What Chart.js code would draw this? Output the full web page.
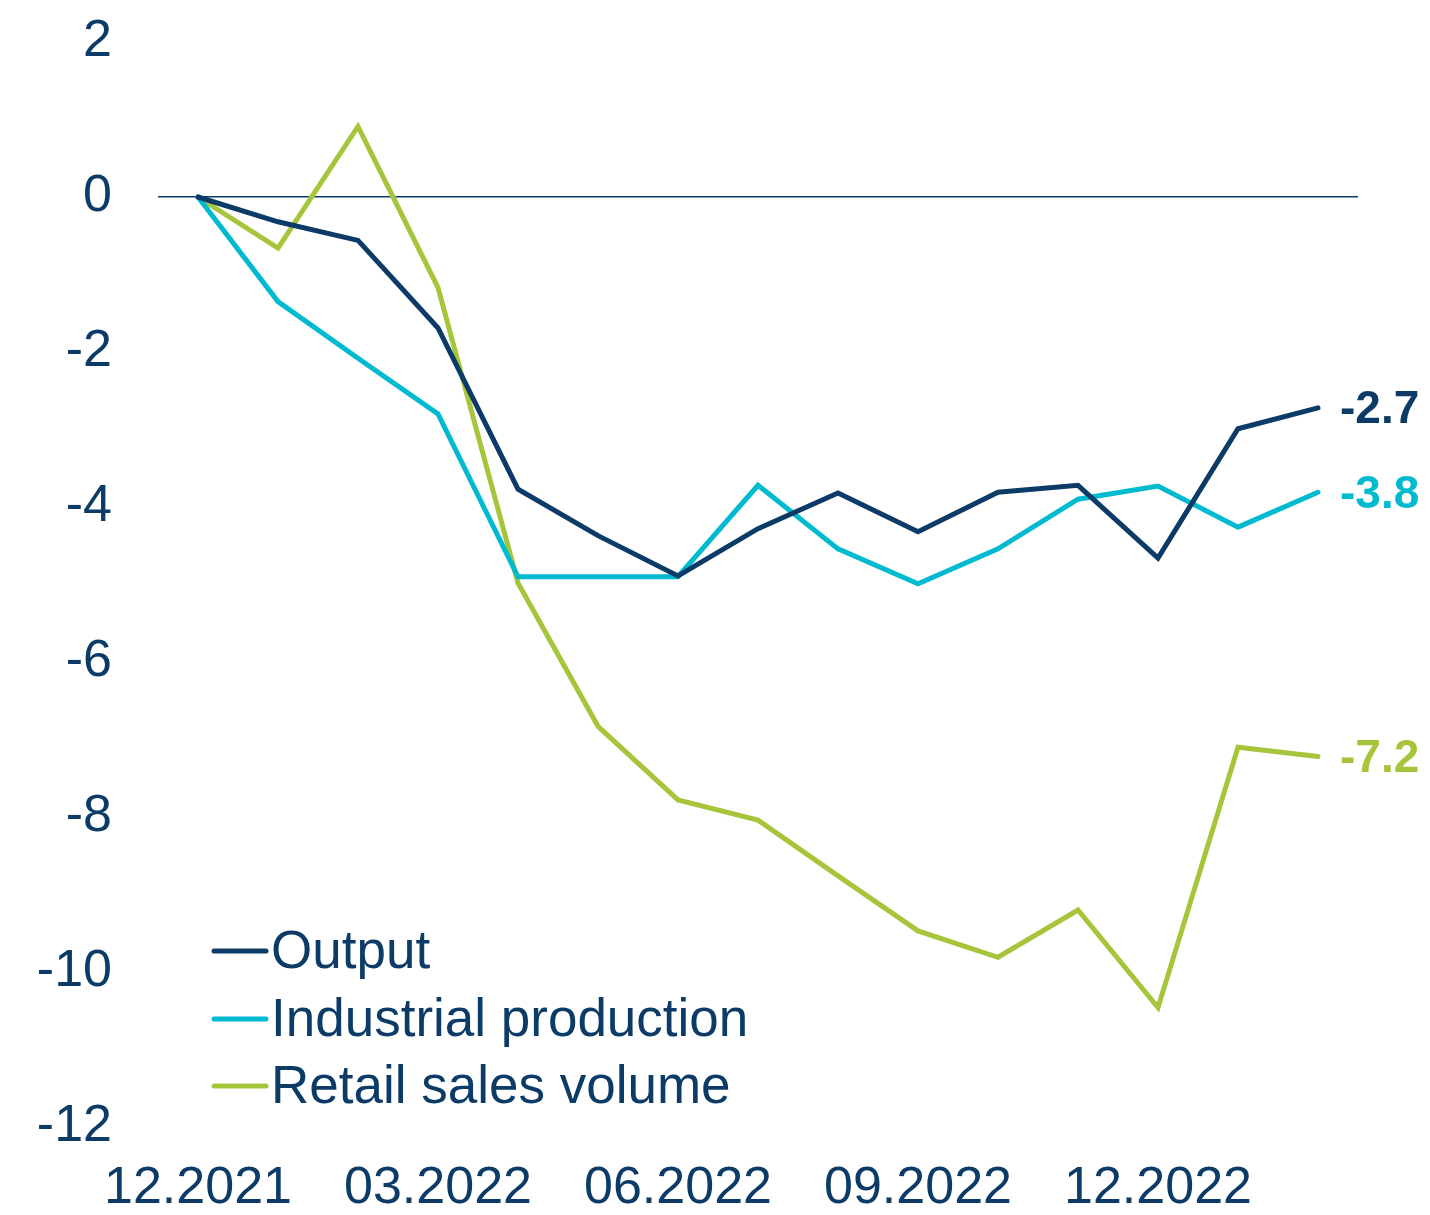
<!DOCTYPE html>
<html>
<head>
<meta charset="utf-8">
<script src="https://cdn.jsdelivr.net/npm/chart.js@4.4.1/dist/chart.umd.min.js"></script>
<style>
  html, body { margin: 0; padding: 0; background: #ffffff; }
  #wrap { width: 1430px; height: 1215px; position: relative; }
</style>
</head>
<body>
<div id="wrap"><canvas id="c" width="1430" height="1215"></canvas></div>
<script>
// ---- data ----
const months = ["12.2021","01.2022","02.2022","03.2022","04.2022","05.2022","06.2022","07.2022","08.2022","09.2022","10.2022","11.2022","12.2022","01.2023","02.2023"];
const outputValues = [0, -0.32, -0.56, -1.69, -3.77, -4.37, -4.89, -4.28, -3.82, -4.32, -3.81, -3.72, -4.66, -2.99, -2.72];
const industrialValues = [0, -1.35, -2.08, -2.8, -4.9, -4.9, -4.9, -3.72, -4.54, -4.99, -4.54, -3.9, -3.73, -4.26, -3.81];
const retailValues = [0, -0.66, 0.91, -1.17, -4.98, -6.83, -7.78, -8.04, -8.76, -9.47, -9.81, -9.2, -10.46, -7.1, -7.22];
const seriesNames = ["Output", "Industrial production", "Retail sales volume"];
const yTicks = [2, 0, -2, -4, -6, -8, -10, -12];

const NAVY = "#0b3b66";
const CYAN = "#00bbd0";
const GREEN = "#a6c53a";
const FONT = "'Liberation Sans', Arial, Helvetica, sans-serif";

const endLabels = {
  id: "endLabels",
  afterDatasetsDraw(chart) {
    const ctx = chart.ctx;
    ctx.save();
    ctx.font = "bold 46px " + FONT;
    ctx.textAlign = "left";
    ctx.textBaseline = "middle";
    chart.data.datasets.forEach((ds, i) => {
      const meta = chart.getDatasetMeta(i);
      const pt = meta.data[meta.data.length - 1];
      const v = ds.data[ds.data.length - 1];
      ctx.fillStyle = ds.borderColor;
      ctx.fillText(v.toFixed(1), pt.x + 22, pt.y + 3);
    });
    ctx.restore();
  }
};

const customLegend = {
  id: "customLegend",
  afterDraw(chart) {
    const ctx = chart.ctx;
    ctx.save();
    ctx.font = "53px " + FONT;
    ctx.textAlign = "left";
    ctx.textBaseline = "middle";
    const rows = [951, 1019, 1086];
    chart.data.datasets.forEach((ds, i) => {
      const y = rows[i];
      ctx.strokeStyle = ds.borderColor;
      ctx.lineWidth = 5;
      ctx.lineCap = "round";
      ctx.beginPath();
      ctx.moveTo(214, y);
      ctx.lineTo(266, y);
      ctx.stroke();
      ctx.fillStyle = NAVY;
      ctx.fillText(ds.label, 271, y + 2);
    });
    ctx.restore();
  }
};

new Chart(document.getElementById("c"), {
  type: "line",
  data: {
    labels: months,
    datasets: [
      { label: seriesNames[0], data: outputValues, borderColor: NAVY },
      { label: seriesNames[1], data: industrialValues, borderColor: CYAN },
      { label: seriesNames[2], data: retailValues, borderColor: GREEN }
    ].map(d => Object.assign(d, { borderWidth: 5, pointRadius: 0, tension: 0, fill: false, borderJoinStyle: "miter", borderCapStyle: "round" }))
  },
  options: {
    responsive: false,
    animation: false,
    devicePixelRatio: 1,
    layout: { padding: { top: 42, right: 72, bottom: 0, left: 0 } },
    plugins: { legend: { display: false }, tooltip: { enabled: false } },
    scales: {
      x: {
        offset: true,
        grid: { display: false, drawTicks: false },
        border: { display: false },
        ticks: {
          autoSkip: false,
          maxRotation: 0,
          padding: 30,
          color: NAVY,
          font: { family: FONT, size: 52 },
          callback: function(v, i) { return (i % 3 === 0 && i < 13) ? this.getLabelForValue(v) : ""; }
        },
        afterFit(scale) { scale.height = 88; scale.paddingLeft = 0; scale.paddingRight = 0; }
      },
      y: {
        min: -12, max: 2,
        afterBuildTicks(scale) { scale.ticks = yTicks.map(v => ({ value: v })); },
        grid: {
          drawTicks: false,
          color: ctx => (ctx.tick && ctx.tick.value === 0) ? NAVY : "rgba(0,0,0,0)",
          lineWidth: 1.5
        },
        border: { display: false },
        ticks: {
          padding: 46,
          color: NAVY,
          font: { family: FONT, size: 52 },
          callback: v => String(v)
        },
        afterFit(scale) { scale.width = 158; scale.paddingTop = 0; scale.paddingBottom = 0; }
      }
    }
  },
  plugins: [endLabels, customLegend]
});
</script>
</body>
</html>
